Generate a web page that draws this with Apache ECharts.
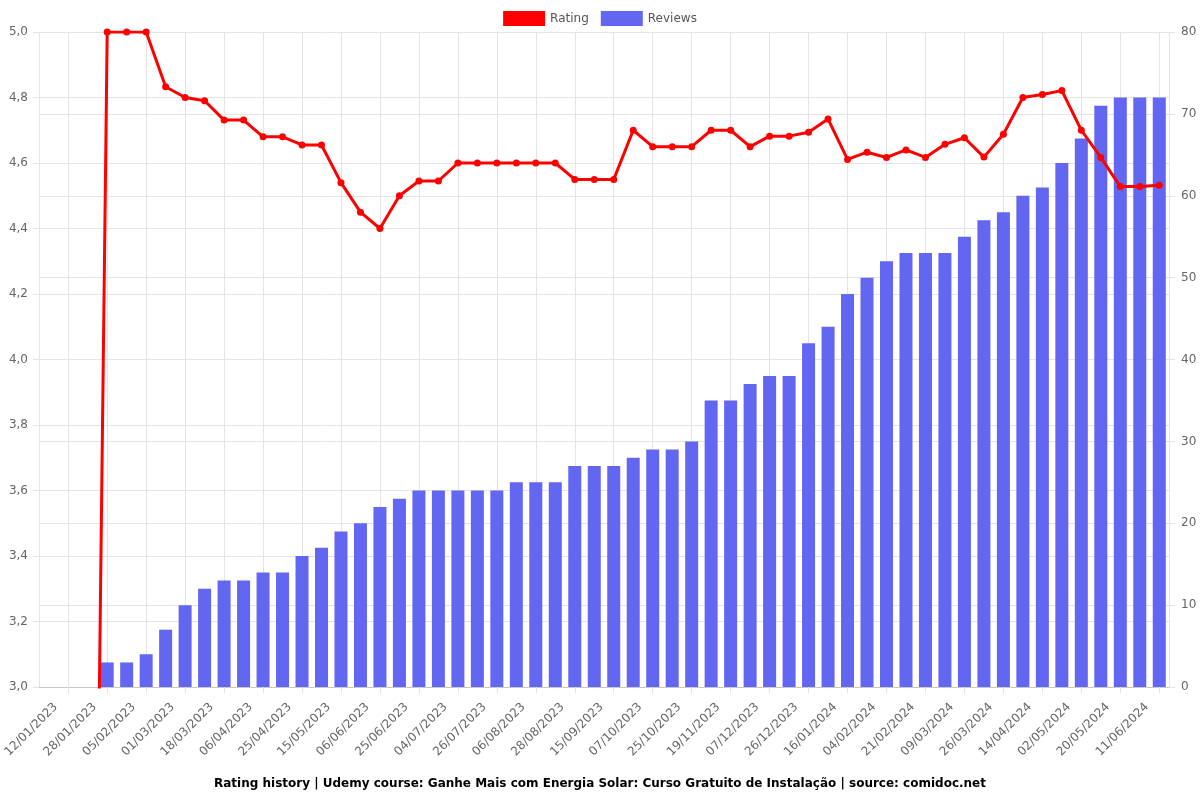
<!DOCTYPE html>
<html>
<head>
<meta charset="utf-8">
<script src="https://cdn.jsdelivr.net/npm/echarts@6/dist/echarts.min.js"></script>
<style>html,body{margin:0;padding:0;background:#fff}#c{width:1200px;height:800px}</style>
</head>
<body>
<div id="c"></div>
<script>
const categories = [
  '12/01/2023','20/01/2023','28/01/2023','01/02/2023','05/02/2023','18/02/2023','01/03/2023','10/03/2023',
  '18/03/2023','27/03/2023','06/04/2023','15/04/2023','25/04/2023','05/05/2023','15/05/2023','25/05/2023',
  '06/06/2023','16/06/2023','25/06/2023','29/06/2023','04/07/2023','15/07/2023','26/07/2023','01/08/2023',
  '06/08/2023','17/08/2023','28/08/2023','06/09/2023','15/09/2023','26/09/2023','07/10/2023','16/10/2023',
  '25/10/2023','06/11/2023','19/11/2023','28/11/2023','07/12/2023','16/12/2023','26/12/2023','06/01/2024',
  '16/01/2024','25/01/2024','04/02/2024','12/02/2024','21/02/2024','29/02/2024','09/03/2024','17/03/2024',
  '26/03/2024','05/04/2024','14/04/2024','23/04/2024','02/05/2024','11/05/2024','20/05/2024','31/05/2024',
  '11/06/2024','20/06/2024'
];
const rating = [
  0, 0, 0, 5.0, 5.0, 5.0, 4.833, 4.8, 4.79, 4.731, 4.731, 4.68, 4.68, 4.655, 4.655, 4.54,
  4.45, 4.4, 4.5, 4.545, 4.545, 4.6, 4.6, 4.6, 4.6, 4.6, 4.6, 4.55, 4.55, 4.55, 4.7, 4.65,
  4.65, 4.65, 4.7, 4.7, 4.65, 4.682, 4.682, 4.694, 4.734, 4.611, 4.633, 4.617, 4.64, 4.617, 4.657, 4.677,
  4.618, 4.688, 4.8, 4.809, 4.821, 4.7, 4.617, 4.528, 4.528, 4.532
];
const reviews = [
  0, 0, 0, 3, 3, 4, 7, 10, 12, 13, 13, 14, 14, 16, 17, 19,
  20, 22, 23, 24, 24, 24, 24, 24, 25, 25, 25, 27, 27, 27, 28, 29,
  29, 30, 35, 35, 37, 38, 38, 42, 44, 48, 50, 52, 53, 53, 53, 55,
  57, 58, 60, 61, 64, 67, 71, 72, 72, 72
];
const titleText = 'Rating history | Udemy course: Ganhe Mais com Energia Solar: Curso Gratuito de Instalação | source: comidoc.net';

const gridColor = '#e4e4e4';
const chart = echarts.init(document.getElementById('c'), null, {renderer: 'canvas'});
chart.setOption({
  animation: false,
  textStyle: {fontFamily: 'DejaVu Sans'},
  title: {
    text: titleText, left: 'center', top: 773,
    textStyle: {fontSize: 12, fontWeight: 'bold', color: '#000', fontFamily: 'DejaVu Sans'}
  },
  legend: {
    top: 6, left: 'center', icon: 'rect', itemWidth: 42, itemHeight: 15, itemGap: 12,
    textStyle: {fontSize: 12, color: '#555'},
    data: ['Rating', 'Reviews']
  },
  grid: {left: 39, right: 31, top: 32, bottom: 113, containLabel: false, outerBoundsMode: 'none'},
  xAxis: {
    type: 'category', data: categories, boundaryGap: true,
    axisLine: {show: true, lineStyle: {color: '#c8c8c8', width: 1}},
    axisTick: {show: true, alignWithLabel: true, interval: (i) => i % 2 === 1, length: 6, lineStyle: {color: gridColor}},
    splitLine: {show: true, alignWithLabel: true, interval: (i) => i % 2 === 1, lineStyle: {color: gridColor}},
    axisLabel: {interval: (i) => i % 2 === 0, rotate: 45, color: '#666', fontSize: 12, margin: 11,
      verticalAlign: 'top', lineHeight: 20}
  },
  yAxis: [
    {
      type: 'value', min: 3, max: 5, interval: 0.2, position: 'left',
      axisLine: {show: true, lineStyle: {color: gridColor}},
      axisTick: {show: true, length: 6, lineStyle: {color: gridColor}},
      splitLine: {show: true, lineStyle: {color: gridColor}},
      axisLabel: {color: '#666', fontSize: 12, margin: 11, formatter: (v) => v.toFixed(1).replace('.', ',')}
    },
    {
      type: 'value', min: 0, max: 80, interval: 10, position: 'right',
      axisLine: {show: true, lineStyle: {color: gridColor}},
      axisTick: {show: true, length: 6, lineStyle: {color: gridColor}},
      splitLine: {show: true, lineStyle: {color: gridColor}},
      axisLabel: {color: '#666', fontSize: 12, margin: 12}
    }
  ],
  series: [
    {
      name: 'Rating', type: 'line', yAxisIndex: 0, data: rating, z: 5,
      color: '#ff0000', lineStyle: {width: 3, color: '#ff0000'},
      symbol: 'circle', symbolSize: 7, showAllSymbol: true,
      itemStyle: {color: '#ff0000'}, clip: true
    },
    {
      name: 'Reviews', type: 'bar', yAxisIndex: 1, data: reviews, z: 2,
      barWidth: 13, color: '#6366f1',
      itemStyle: {color: '#6366f1', borderWidth: 0}
    }
  ]
});
</script>
</body>
</html>
